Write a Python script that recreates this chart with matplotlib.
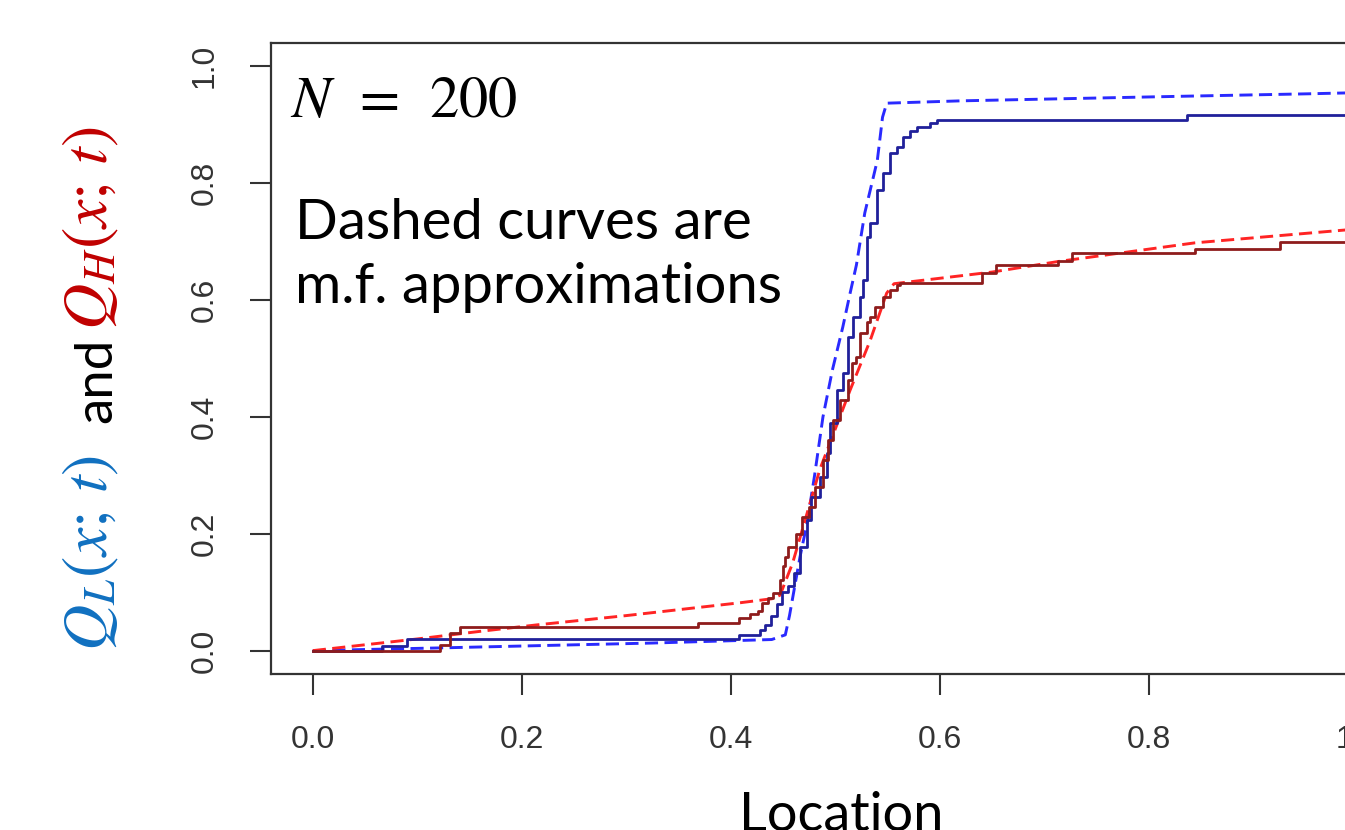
import matplotlib
matplotlib.use("Agg")
import matplotlib.pyplot as plt

plt.rcParams['mathtext.fontset'] = 'stix'

# simulated Q_L (solid navy), step points: value changes to y at x
ql_sim_x = [0, 0.066, 0.090, 0.408, 0.428, 0.433, 0.438, 0.444, 0.449, 0.455, 0.460, 0.466,
            0.473, 0.477, 0.485, 0.492, 0.495, 0.501, 0.507, 0.512, 0.517, 0.523, 0.526,
            0.530, 0.533, 0.540, 0.545, 0.552, 0.559, 0.565, 0.571, 0.578, 0.590, 0.597,
            0.836, 1.0]
ql_sim_y = [0, 0.008, 0.020, 0.027, 0.036, 0.044, 0.060, 0.080, 0.100, 0.110, 0.133, 0.178,
            0.224, 0.263, 0.297, 0.338, 0.390, 0.446, 0.475, 0.537, 0.571, 0.605, 0.634,
            0.708, 0.732, 0.788, 0.817, 0.851, 0.862, 0.879, 0.890, 0.896, 0.903, 0.909,
            0.916, 0.916]

# simulated Q_H (solid dark red)
qh_sim_x = [0, 0.122, 0.131, 0.141, 0.368, 0.408, 0.418, 0.426, 0.430, 0.435, 0.440, 0.447,
            0.450, 0.452, 0.455, 0.462, 0.468, 0.475, 0.480, 0.488, 0.493, 0.498, 0.504,
            0.512, 0.516, 0.520, 0.523, 0.530, 0.533, 0.538, 0.545, 0.552, 0.559, 0.562,
            0.640, 0.654, 0.713, 0.726, 0.844, 0.925, 1.0]
qh_sim_y = [0, 0.009, 0.031, 0.040, 0.047, 0.055, 0.062, 0.068, 0.082, 0.090, 0.099, 0.121,
            0.145, 0.160, 0.178, 0.200, 0.229, 0.245, 0.280, 0.326, 0.360, 0.395, 0.429,
            0.463, 0.492, 0.503, 0.544, 0.562, 0.571, 0.588, 0.605, 0.617, 0.626, 0.630,
            0.646, 0.660, 0.667, 0.680, 0.687, 0.700, 0.700]

# mean-field approximations (dashed)
ql_mf_x = [0, 0.12, 0.215, 0.325, 0.439, 0.452, 0.456, 0.460, 0.466, 0.473, 0.480, 0.488,
           0.497, 0.507, 0.514, 0.520, 0.528, 0.540, 0.545, 0.549, 0.62, 0.836, 0.951, 1.0]
ql_mf_y = [0, 0.0046, 0.0085, 0.013, 0.019, 0.027, 0.060, 0.100, 0.160, 0.220, 0.300, 0.400,
           0.480, 0.554, 0.612, 0.660, 0.749, 0.839, 0.913, 0.937, 0.941, 0.949, 0.953, 0.955]

qh_mf_x = [0, 0.05, 0.10, 0.16, 0.214, 0.30, 0.409, 0.440, 0.447, 0.459, 0.485, 0.514,
           0.533, 0.549, 0.556, 0.65, 0.713, 0.844, 0.988, 1.0]
qh_mf_y = [0, 0.010, 0.020, 0.033, 0.044, 0.060, 0.082, 0.089, 0.095, 0.150, 0.310, 0.446,
           0.530, 0.612, 0.628, 0.648, 0.666, 0.698, 0.720, 0.722]

ticks = [0.0, 0.2, 0.4, 0.6, 0.8, 1.0]
tick_labels = ["0.0", "0.2", "0.4", "0.6", "0.8", "1.0"]

fig = plt.figure(figsize=(13.45, 8.3), dpi=100)
ax = fig.add_axes([271 / 1345, (830 - 674) / 830, (1400 - 271) / 1345, (674 - 43) / 830])

ax.plot(ql_mf_x, ql_mf_y, color='#2a2aff', lw=2.1, ls=(0, (4.5, 2.2)))
ax.plot(qh_mf_x, qh_mf_y, color='#ff2424', lw=2.1, ls=(0, (4.5, 2.2)))
ax.plot(ql_sim_x, ql_sim_y, color='#20209a', lw=2.0, drawstyle='steps-post')
ax.plot(qh_sim_x, qh_sim_y, color='#8e1c1c', lw=2.0, drawstyle='steps-post')

ax.set_xlim(-0.04, 1.04)
ax.set_ylim(-0.04, 1.04)
ax.set_xticks(ticks)
ax.set_xticklabels(tick_labels, family='Liberation Sans', fontsize=23, color='#333333')
ax.set_yticks(ticks)
ax.set_yticklabels(tick_labels, family='Liberation Sans', fontsize=23, color='#333333',
                   rotation=90, va='center')
ax.tick_params(length=15, width=1.5, color='#333333', pad=22)
for s in ax.spines.values():
    s.set_color('#333333')
    s.set_linewidth(1.6)

ax.text(-0.022, 0.99, r'$N\ \,=\ \,200$', fontsize=42, va='top', ha='left')
ax.text(-0.017, 0.775, 'Dashed curves are\nm.f. approximations', family='Lato',
        fontsize=40.5, va='top', ha='left', linespacing=1.33)

fig.text(90 / 1345, (830 - 553) / 830, r'$Q_L(x;\,t)$', rotation=90, color='#1070c0',
         fontsize=46, ha='center', va='center')
fig.text(97 / 1345, (830 - 380) / 830, 'and', rotation=90, family='Lato',
         fontsize=38, ha='center', va='center')
fig.text(90 / 1345, (830 - 228) / 830, r'$Q_H(x;\,t)$', rotation=90, color='#c00000',
         fontsize=46, ha='center', va='center')
fig.text(841 / 1345, -1 / 830, 'Location', family='Lato', fontsize=39,
         ha='center', va='baseline')

fig.savefig('out.png', dpi=100)
